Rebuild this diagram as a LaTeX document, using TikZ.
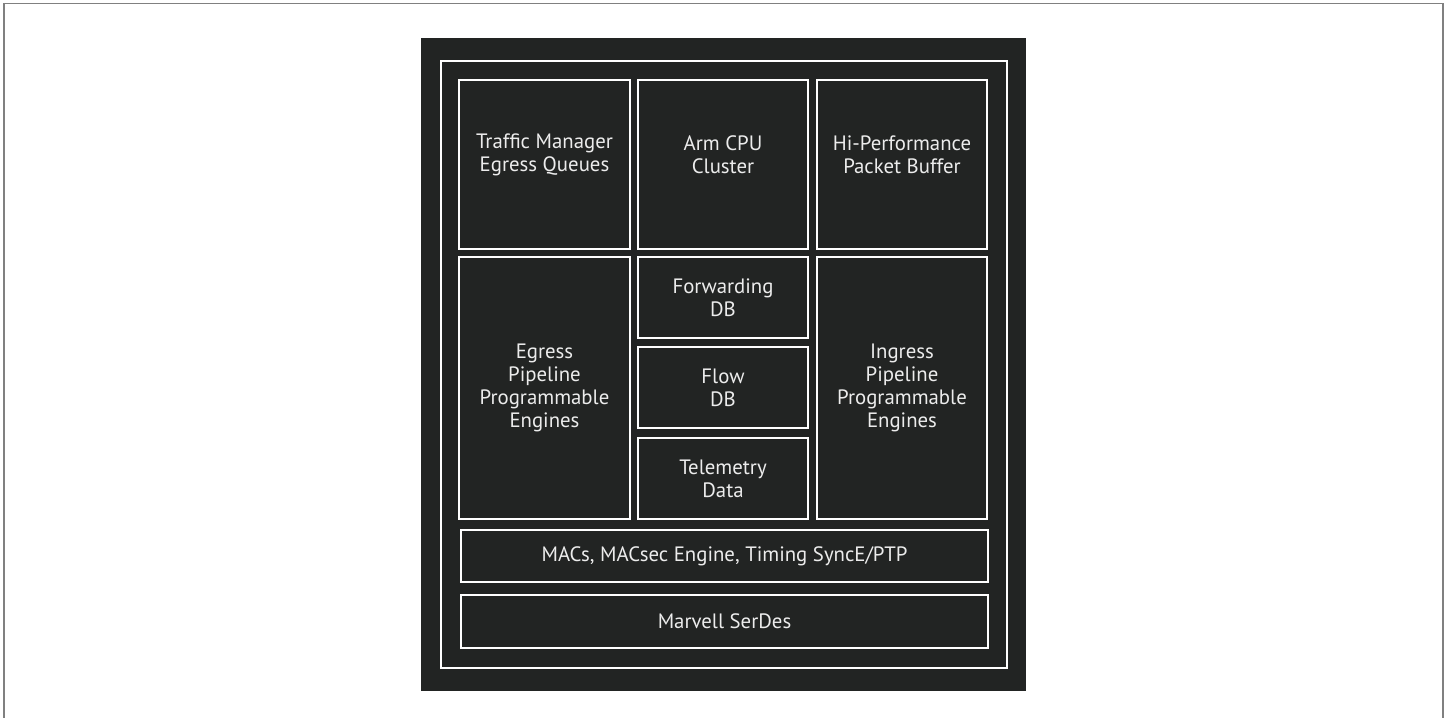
\documentclass[tikz,border=0pt]{standalone}
\usepackage{xcolor}
\usepackage{fontspec}
\setmainfont{PT Sans}
\usepackage{tikz}
\usetikzlibrary{positioning}

\definecolor{chipdark}{RGB}{34,36,35}
\definecolor{chiptext}{RGB}{236,236,236}
\definecolor{framegray}{RGB}{128,128,128}

\begin{document}
\begin{tikzpicture}[x=1pt,y=-1pt]
\tikzstyle{chipline}=[draw=white, line width=2pt]
\tikzstyle{block}=[chipline, fill=chipdark, inner sep=0pt, outer sep=0pt, anchor=north west]
\tikzstyle{label}=[text=chiptext, align=center, font=\fontsize{20.8}{22.8}\selectfont]

\useasboundingbox (0,0) rectangle (1450,717);
\draw[framegray, line width=1.5pt] (4,730) -- (4,3.5) -- (1443,3.5) -- (1443,730);

% Background 'die'
\fill[chipdark] (421,38) rectangle (1026,691);
\draw[chipline] (440.5,61) rectangle (1006.5,667.5);

% top row
\node[block, minimum width=171pt, minimum height=169pt] (tm) at (459,80) {};
\node[block, minimum width=170pt, minimum height=169pt] (cpu) at (638,80) {};
\node[block, minimum width=170pt, minimum height=169pt] (buffer) at (817,80) {};
\node[label] (tm-text) at ([yshift=10pt]tm.center) {Traffic Manager\\Egress Queues};
\node[label] (cpu-text) at ([yshift=10pt]cpu.center) {Arm CPU\\Cluster};
\node[label] (buffer-text) at ([yshift=10pt]buffer.center) {Hi-Performance\\Packet Buffer};

% pipelines and databases
\node[block, label, minimum width=171pt, minimum height=262pt] (egress) at (459,257) {Egress\\Pipeline\\Programmable\\Engines};
\node[block, label, minimum width=170pt, minimum height=81pt] (fwd-db) at (638,257) {Forwarding\\DB};
\node[block, label, minimum width=170pt, minimum height=81pt] (flow-db) at (638,347) {Flow\\DB};
\node[block, label, minimum width=170pt, minimum height=81pt] (telemetry) at (638,438) {Telemetry\\Data};
\node[block, label, minimum width=170pt, minimum height=262pt] (ingress) at (817,257) {Ingress\\Pipeline\\Programmable\\Engines};

% bottom bars
\node[block, label, minimum width=527pt, minimum height=52pt] (macs) at (461,530) {MACs, MACsec Engine, Timing SyncE/PTP};
\node[block, label, minimum width=527pt, minimum height=53pt] (serdes) at (461,595) {Marvell SerDes};
\end{tikzpicture}
\end{document}
